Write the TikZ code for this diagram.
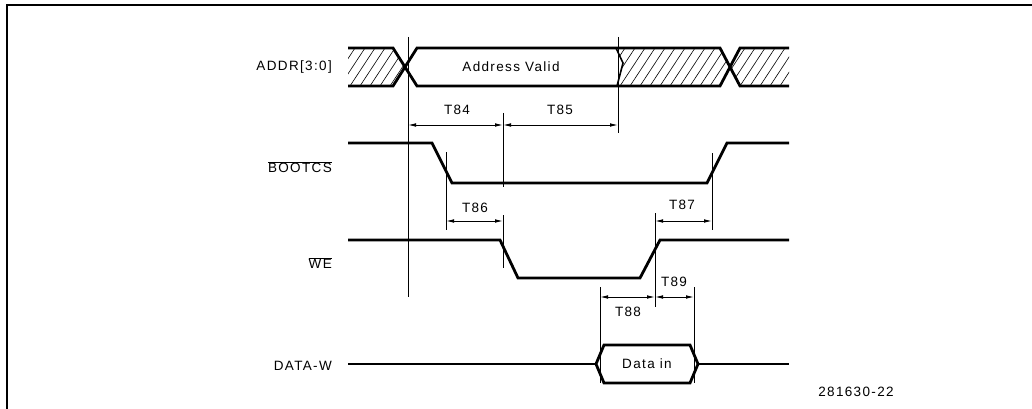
\documentclass[tikz,border=0pt]{standalone}
\usepackage{fontspec}
\setmainfont{Liberation Sans}[LetterSpace=10]
\usetikzlibrary{arrows.meta}
\tikzset{
  sig/.style={line width=2.8pt, line join=miter},
  tick/.style={line width=0.9pt},
  dim/.style={line width=0.9pt, {Latex[length=8pt,width=3.6pt]}-{Latex[length=8pt,width=3.6pt]}},
  hatch/.style={line width=0.6pt},
  lbl/.style={anchor=east, inner sep=0pt, font=\fontsize{13.5}{15}\selectfont},
  tlbl/.style={inner sep=0pt, font=\fontsize{13.5}{15}\selectfont}
}
\begin{document}
\begin{tikzpicture}[x=1pt, y=-1pt]
    \useasboundingbox (0,0) rectangle (1032,409);
    % Frame
    \draw[line width=2pt] (7,409) -- (7,5) -- (1032,5);

    % Signal names
    \node[lbl] (naddr) at (332,67) {ADDR[3:0]};
    \node[lbl] (ncs) at (332,167) {$\overline{\mbox{BOOTCS}}$};
    \node[lbl] (nwe) at (332,263) {$\overline{\mbox{WE}}$};
    \node[lbl] (ndata) at (332,366) {DATA-W};

    % Hatched (invalid) parts of the address bus
    \begin{scope}
        \clip (348,48) -- (393,48) -- (405,67) -- (393,86) -- (348,86) -- cycle;
        \foreach \x in {320,330,...,420}
            \draw[hatch] (\x,86) -- ++(25,-38);
    \end{scope}
    \begin{scope}
        \clip (616,48) -- (720,48) -- (730,67) -- (720,86) -- (617,86) -- (623,63) -- cycle;
        \foreach \x in {590,600,...,740}
            \draw[hatch] (\x,86) -- ++(25,-38);
    \end{scope}
    \begin{scope}
        \clip (740,48) -- (789,48) -- (789,86) -- (740,86) -- (730,67) -- cycle;
        \foreach \x in {710,720,...,800}
            \draw[hatch] (\x,86) -- ++(25,-38);
    \end{scope}

    % ADDR[3:0]
    \draw[sig] (348,48) -- (393,48) -- (417,86) -- (720,86) -- (740,48) -- (789,48);
    \draw[sig] (348,86) -- (393,86) -- (417,48) -- (720,48) -- (740,86) -- (789,86);
    \draw[line width=1.6pt] (616,48) -- (623,63) -- (617,86);
    \node[tlbl] (valid) at (511,67) {Address Valid};

    % BOOTCS
    \draw[sig] (348,143) -- (432,143) -- (452,183) -- (707,183) -- (727,143) -- (789,143);

    % WE
    \draw[sig] (348,240) -- (500,240) -- (518,278) -- (640,278) -- (660,240) -- (789,240);

    % DATA-W
    \draw[sig] (348,364) -- (596,364);
    \draw[sig] (596,364) -- (604,345) -- (690,345) -- (698,364) -- (690,383) -- (604,383) -- cycle;
    \draw[sig] (698,364) -- (789,364);
    \node[tlbl] (datain) at (647,364) {Data in};

    % Timing reference lines
    \draw[tick] (408,37) -- (408,297);
    \draw[tick] (618,37) -- (618,133);
    \draw[tick] (503,113) -- (503,187);
    \draw[tick] (446,152) -- (446,230);
    \draw[tick] (503,215) -- (503,268);
    \draw[tick] (712,153) -- (712,230);
    \draw[tick] (655,213) -- (655,307);
    \draw[tick] (600,287) -- (600,383);
    \draw[tick] (694,287) -- (694,383);

    % Timing marks
    \coordinate (a84) at (408,125);
    \coordinate (b84) at (503,125);
    \coordinate (b85) at (618,125);
    \coordinate (a86) at (446,221);
    \coordinate (b86) at (503,221);
    \coordinate (a87) at (655,221);
    \coordinate (b87) at (712,221);
    \coordinate (a88) at (600,297);
    \coordinate (b88) at (655,297);
    \coordinate (b89) at (694,297);

    \draw[dim] (a84) -- (b84);
    \draw[dim] (b84) -- (b85);
    \draw[dim] (a86) -- (b86);
    \draw[dim] (a87) -- (b87);
    \draw[dim] (a88) -- (b88);
    \draw[dim] (b88) -- (b89);

    \node[tlbl] (t84) at (457,110) {T84};
    \node[tlbl] (t85) at (560,110) {T85};
    \node[tlbl] (t86) at (475,208) {T86};
    \node[tlbl] (t87) at (682,205) {T87};
    \node[tlbl] (t88) at (628,312) {T88};
    \node[tlbl] (t89) at (674,282) {T89};

    \node[tlbl] (fig) at (856,392) {281630-22};
\end{tikzpicture}
\end{document}
